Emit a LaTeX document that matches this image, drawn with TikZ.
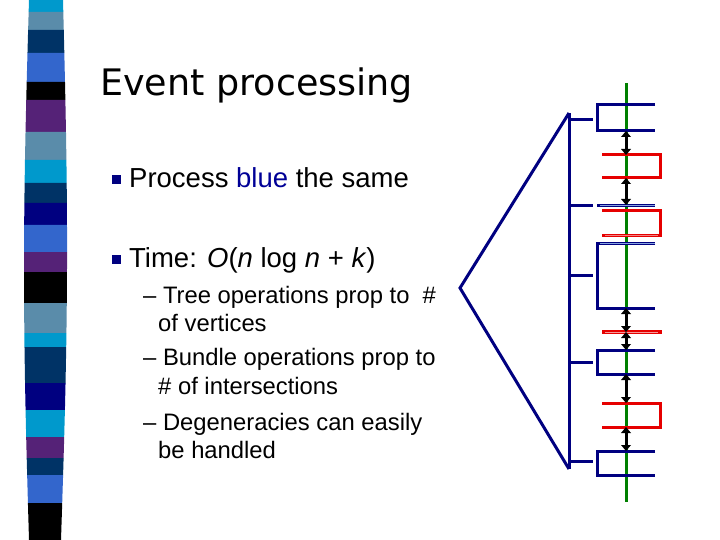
\documentclass[tikz,border=0pt]{standalone}
\usepackage{fontspec}
\setmainfont{Liberation Sans}
\newfontfamily\titlefont{DejaVu Sans}
\usetikzlibrary{arrows.meta}
\definecolor{navy}{RGB}{0,0,128}
\definecolor{dnavy}{RGB}{0,51,102}
\definecolor{royal}{RGB}{51,102,204}
\definecolor{steel}{RGB}{90,140,170}
\definecolor{cyanb}{RGB}{0,153,204}
\definecolor{purp}{RGB}{85,34,119}
\definecolor{redl}{RGB}{230,0,0}
\definecolor{greenl}{RGB}{0,128,0}
\definecolor{bluet}{RGB}{0,0,150}
\tikzset{bl/.style={draw=navy,line width=3pt},rd/.style={draw=redl,line width=3pt},
 dar/.style={draw=black,line width=3pt,{Triangle[length=6pt,width=10pt,line width=0pt]}-{Triangle[length=6pt,width=10pt,line width=0pt]}},
 bul/.style={fill=navy,minimum size=9pt,inner sep=0pt},
 txt/.style={anchor=base west,inner sep=0pt,font=\fontsize{27.5}{30}\selectfont},
 sub/.style={anchor=base west,inner sep=0pt,font=\fontsize{23.8}{28}\selectfont}}
\begin{document}
\begin{tikzpicture}[x=1pt,y=-1pt]
\useasboundingbox (0,0) rectangle (720,540);
% stripe
\foreach \a/\b/\c in {0/12/cyanb,12/30/steel,30/53/dnavy,53/82/royal,82/100/black,100/132/purp,132/160/steel,160/183/cyanb,183/203/dnavy,203/225/navy,225/252/royal,252/272/purp,272/303/black,303/333/steel,333/347/cyanb,347/383/dnavy,383/410/navy,410/437/cyanb,437/458/purp,458/475/dnavy,475/503/royal,503/540/black}{
 \pgfmathsetmacro\la{29-5*sin(\a/540*180)}
 \pgfmathsetmacro\lb{29-5*sin(\b/540*180)}
 \pgfmathsetmacro\ra{63+5*sin(\a/540*180)-2*\a/540}
 \pgfmathsetmacro\rb{63+5*sin(\b/540*180)-2*\b/540}
 \fill[\c] (\la,\a) -- (\ra,\a) -- (\rb,\b) -- (\lb,\b) -- cycle;}
\node[anchor=base west,inner sep=0pt,font=\titlefont\fontsize{36.5}{40}\selectfont] (title) at (100,96) {Event processing};
\node[bul] (b1) at (116,180) {};
\node[txt] (t1) at (129,188) {Process \textcolor{bluet}{blue} the same};
\node[bul] (b2) at (116,259) {};
\node[txt] (t2) at (129,267) {Time: \textit{O}(\textit{n} log \textit{n} + \textit{k})};
\node[sub] (s1) at (143,303) {– Tree operations prop to~~\#};
\node[sub] (s2) at (158,331) {of vertices};
\node[sub] (s3) at (143,365) {– Bundle operations prop to};
\node[sub] (s4) at (158,394) {\# of intersections};
\node[sub] (s5) at (143,430) {– Degeneracies can easily};
\node[sub] (s6) at (158,458) {be handled};
% diagram
\coordinate (top) at (569,113); \coordinate (bot) at (569,469); \coordinate (apex) at (460,288);
\draw[navy,line width=3pt,line join=miter] (top) -- (apex) -- (bot);
\draw[bl] (top) -- (bot);
\draw[draw=greenl,line width=3pt] (626,83) -- (626,502);
\foreach \y in {120,206,275,362,461}{\draw[bl] (569,\y) -- (593,\y);}
% blue boxes
\draw[bl] (655,105) -- (597,105) -- (597,131) -- (655,131);
\draw[bl] (597,206) -- (655,206);
\draw[draw=royal!60,line width=1pt] (600,206) -- (655,206);
\draw[bl] (655,243) -- (597,243) -- (597,308) -- (655,308);
\draw[draw=royal!60,line width=1pt] (600,243) -- (655,243);
\draw[bl] (655,350) -- (597,350) -- (597,374) -- (655,374);
\draw[bl] (655,451) -- (597,451) -- (597,475) -- (655,475);
% red boxes
\draw[rd] (602,155) -- (660,155) -- (660,178) -- (602,178);
\draw[rd] (602,211) -- (660,211) -- (660,235) -- (602,235);
\draw[draw=redl!50,line width=1pt] (605,235) -- (658,235);
\draw[rd,line width=4pt] (602,332) -- (662,332);
\draw[draw=redl!40,line width=1pt] (605,332) -- (658,332);
\draw[rd] (602,403) -- (660,403) -- (660,427) -- (602,427);
% arrows
\foreach \a/\b in {131/155,178/205,308/332,332/350,374/403,427/451}{
 \coordinate (p\a) at (626,\a); \coordinate (q\b) at (626,\b);
 \draw[dar] (p\a) -- (q\b);}
\end{tikzpicture}
\end{document}
